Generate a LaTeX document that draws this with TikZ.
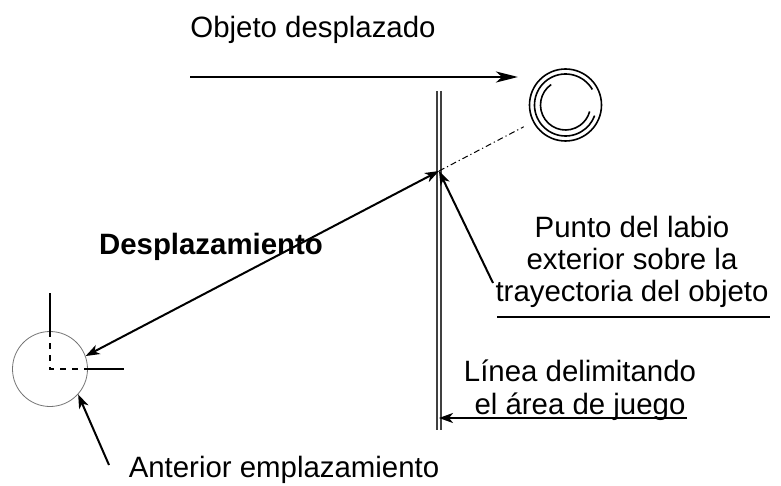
\documentclass[tikz,border=0pt]{standalone}
\usepackage{fontspec}
\setmainfont{Liberation Sans}
\usepackage{tikz}
\usetikzlibrary{arrows, arrows.meta}
\usetikzlibrary{calc}
\tikzstyle{arrow}=[arrows={-{Stealth[length=7pt, width=5pt, inset=2pt]}}, line width=1pt]
\tikzstyle{darrow}=[arrows={{Stealth[length=7pt, width=5pt, inset=2pt]}-{Stealth[length=7pt, width=5pt, inset=2pt]}}, line width=1pt]
\tikzset{
    txt/.style={font=\fontsize{14.7}{16}\selectfont, align=center, inner sep=0pt},
    ball/.style={circle, draw, line width=0.8pt, minimum size=36pt, inner sep=0pt},
    oldpos/.style={circle, draw=black!55, line width=0.4pt, minimum size=37.5pt, inner sep=0pt},
    bound/.style={draw=black!75, double, line width=0.7pt, double distance=1.2pt},
    traj/.style={line width=0.5pt, dash pattern=on 3pt off 1.5pt on 0.6pt off 1.5pt},
    cross/.style={line width=0.6pt}
}

\begin{document}
\begin{tikzpicture}[x=0.5pt, y=-0.5pt]
  \useasboundingbox (0,0) rectangle (781,486);

  \node[txt] (t_obj) at (313,30) {Objeto desplazado};
  \node[txt, font=\fontsize{14.7}{16}\selectfont\bfseries] (t_desp) at (211,247) {Desplazamiento};
  \node[txt] (t_punto) at (632,262) {Punto del labio\\exterior sobre la\\trayectoria del objeto};
  \node[txt, font=\fontsize{14.7}{16.5}\selectfont] (t_linea) at (580,390) {L\'inea delimitando\\el \'area de juego};
  \node[txt] (t_ant) at (284,470) {Anterior emplazamiento};

  % object and its old place
  \node[ball] (ball) at (565.5,105) {};
  \coordinate (old) at (50,369);
  \node[oldpos] (oldc) at (old) {};

  \coordinate (bnd top) at (439,91);
  \coordinate (bnd bot) at (439,430);
  \coordinate (hit) at (439,171);
  \coordinate (mv start) at (190,77);
  \coordinate (mv end) at (518,77);
  \coordinate (punto tail) at (493,283);
  \coordinate (lin tail) at (687,418);
  \coordinate (ant tail) at (109,465);
  \coordinate (ul a) at (497,317);
  \coordinate (ul b) at (770,317);

  % rings inside the ball
  \draw[line width=0.8pt] ($(ball.center)+(-30:31)$) arc[start angle=-30, end angle=-340, radius=31];
  \draw[line width=0.8pt] ($(ball.center)+(-125:25)$) arc[start angle=-125, end angle=-345, radius=25];

  % boundary line
  \draw[bound] (bnd top) -- (bnd bot);

  % cross on the old place
  \draw[cross] (old) ++(0,-76) -- (oldc.north);
  \draw[cross, dashed] (oldc.north) -- (old) -- (oldc.east);
  \draw[cross] (oldc.east) -- ++(36,0);

  \draw[arrow, line width=1.3pt, arrows={-{Stealth[length=11pt, width=5.5pt, inset=3pt]}}] (mv start) -- (mv end);
  \draw[traj] (hit) -- ($(hit)!0.67!(ball.center)$);
  \draw[darrow] (hit) -- (oldc.20);
  \draw[arrow] (punto tail) -- (hit);
  \draw[line width=0.6pt] (ul a) -- (ul b);
  \draw[arrow] (lin tail) -- (lin tail -| bnd bot);
  \draw[arrow] (ant tail) -- (oldc.-42);

\end{tikzpicture}
\end{document}
